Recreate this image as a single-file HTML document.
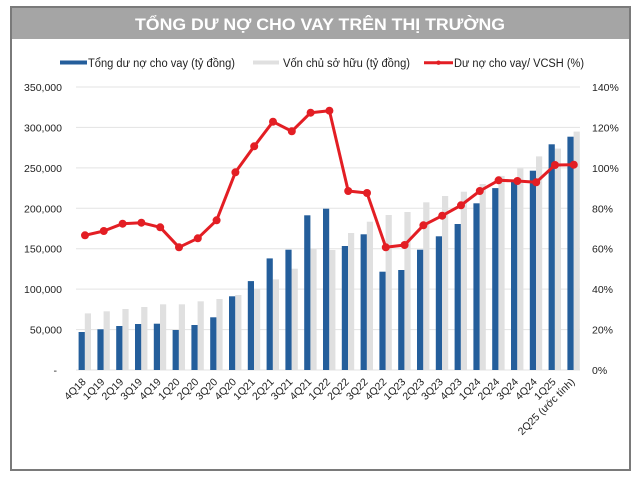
<!DOCTYPE html>
<html><head><meta charset="utf-8"><style>
html,body{margin:0;padding:0;background:#fff;width:640px;height:480px;overflow:hidden}
svg{display:block}
text{font-family:"Liberation Sans","Noto Sans CJK SC",sans-serif}
</style></head><body>
<svg width="640" height="480" viewBox="0 0 640 480" xmlns="http://www.w3.org/2000/svg">
<rect x="0" y="0" width="640" height="480" fill="#fff"/>
<rect x="11" y="7" width="619" height="32" fill="#a5a5a5"/>
<rect x="11" y="7" width="619" height="463" fill="none" stroke="#7a7a7a" stroke-width="2"/>
<text x="320" y="30" text-anchor="middle" font-size="17" font-weight="bold" fill="#fff" textLength="370" lengthAdjust="spacingAndGlyphs">TỔNG DƯ NỢ CHO VAY TRÊN THỊ TRƯỜNG</text>

<!-- legend -->
<rect x="60" y="60.5" width="27" height="4" fill="#245e9b"/>
<text x="88" y="67" font-size="11.5" fill="#222" textLength="147" lengthAdjust="spacingAndGlyphs">Tổng dư nợ cho vay (tỷ đồng)</text>
<rect x="253" y="60.5" width="26" height="4" fill="#e0e0e0"/>
<text x="283" y="67" font-size="11.5" fill="#222" textLength="127" lengthAdjust="spacingAndGlyphs">Vốn chủ sở hữu (tỷ đồng)</text>
<line x1="424" y1="62.7" x2="453" y2="62.7" stroke="#e31e24" stroke-width="3"/>
<circle cx="438.5" cy="62.7" r="2.2" fill="#e31e24"/>
<text x="454" y="67" font-size="11.5" fill="#222" textLength="130" lengthAdjust="spacingAndGlyphs">Dư nợ cho vay/ VCSH (%)</text>

<!-- gridlines -->
<g stroke="#e3e3e3" stroke-width="1">
<line x1="76" y1="87" x2="580" y2="87"/>
<line x1="76" y1="127.4" x2="580" y2="127.4"/>
<line x1="76" y1="167.9" x2="580" y2="167.9"/>
<line x1="76" y1="208.3" x2="580" y2="208.3"/>
<line x1="76" y1="248.7" x2="580" y2="248.7"/>
<line x1="76" y1="289.1" x2="580" y2="289.1"/>
<line x1="76" y1="329.6" x2="580" y2="329.6"/>
<line x1="76" y1="370" x2="580" y2="370"/>
</g>

<!-- left axis -->
<g font-size="10.5" fill="#222" text-anchor="end">
<text x="62" y="91">350,000</text>
<text x="62" y="131.4">300,000</text>
<text x="62" y="171.9">250,000</text>
<text x="62" y="212.3">200,000</text>
<text x="62" y="252.7">150,000</text>
<text x="62" y="293.1">100,000</text>
<text x="62" y="333.6">50,000</text>
<text x="57" y="374">-</text>
</g>
<!-- right axis -->
<g font-size="10.5" fill="#222">
<text x="592" y="91">140%</text>
<text x="592" y="131.4">120%</text>
<text x="592" y="171.9">100%</text>
<text x="592" y="212.3">80%</text>
<text x="592" y="252.7">60%</text>
<text x="592" y="293.1">40%</text>
<text x="592" y="333.6">20%</text>
<text x="592" y="374">0%</text>
</g>

<!-- gray bars -->
<g fill="#e0e0e0">
<rect x="84.8" y="313.4" width="6.2" height="56.6"/>
<rect x="103.6" y="311.3" width="6.2" height="58.7"/>
<rect x="122.4" y="309.0" width="6.2" height="61.0"/>
<rect x="141.2" y="307.0" width="6.2" height="63.0"/>
<rect x="160.0" y="304.3" width="6.2" height="65.7"/>
<rect x="178.8" y="304.3" width="6.2" height="65.7"/>
<rect x="197.6" y="301.3" width="6.2" height="68.7"/>
<rect x="216.4" y="299.0" width="6.2" height="71.0"/>
<rect x="235.2" y="295.0" width="6.2" height="75.0"/>
<rect x="254.0" y="289.3" width="6.2" height="80.7"/>
<rect x="272.8" y="279.4" width="6.2" height="90.6"/>
<rect x="291.6" y="268.7" width="6.2" height="101.3"/>
<rect x="310.4" y="249.0" width="6.2" height="121.0"/>
<rect x="329.2" y="250.0" width="6.2" height="120.0"/>
<rect x="348.0" y="233.0" width="6.2" height="137.0"/>
<rect x="366.8" y="221.7" width="6.2" height="148.3"/>
<rect x="385.6" y="215.0" width="6.2" height="155.0"/>
<rect x="404.4" y="212.0" width="6.2" height="158.0"/>
<rect x="423.2" y="202.3" width="6.2" height="167.7"/>
<rect x="442.0" y="196.0" width="6.2" height="174.0"/>
<rect x="460.8" y="191.7" width="6.2" height="178.3"/>
<rect x="479.6" y="184.0" width="6.2" height="186.0"/>
<rect x="498.4" y="175.9" width="6.2" height="194.1"/>
<rect x="517.2" y="168.3" width="6.2" height="201.7"/>
<rect x="536.0" y="156.4" width="6.2" height="213.6"/>
<rect x="554.8" y="148.6" width="6.2" height="221.4"/>
<rect x="573.6" y="131.6" width="6.2" height="238.4"/>
</g>
<!-- blue bars -->
<g fill="#245e9b">
<rect x="78.6" y="332.0" width="6.2" height="38.0"/>
<rect x="97.4" y="329.3" width="6.2" height="40.7"/>
<rect x="116.2" y="326.0" width="6.2" height="44.0"/>
<rect x="135.0" y="324.0" width="6.2" height="46.0"/>
<rect x="153.8" y="323.7" width="6.2" height="46.3"/>
<rect x="172.6" y="330.0" width="6.2" height="40.0"/>
<rect x="191.4" y="325.0" width="6.2" height="45.0"/>
<rect x="210.2" y="317.3" width="6.2" height="52.7"/>
<rect x="229.0" y="296.3" width="6.2" height="73.7"/>
<rect x="247.8" y="281.1" width="6.2" height="88.9"/>
<rect x="266.6" y="258.4" width="6.2" height="111.6"/>
<rect x="285.4" y="249.7" width="6.2" height="120.3"/>
<rect x="304.2" y="215.3" width="6.2" height="154.7"/>
<rect x="323.0" y="208.7" width="6.2" height="161.3"/>
<rect x="341.8" y="246.0" width="6.2" height="124.0"/>
<rect x="360.6" y="234.3" width="6.2" height="135.7"/>
<rect x="379.4" y="271.7" width="6.2" height="98.3"/>
<rect x="398.2" y="270.0" width="6.2" height="100.0"/>
<rect x="417.0" y="249.7" width="6.2" height="120.3"/>
<rect x="435.8" y="236.3" width="6.2" height="133.7"/>
<rect x="454.6" y="224.0" width="6.2" height="146.0"/>
<rect x="473.4" y="203.3" width="6.2" height="166.7"/>
<rect x="492.2" y="188.1" width="6.2" height="181.9"/>
<rect x="511.0" y="181.6" width="6.2" height="188.4"/>
<rect x="529.8" y="170.7" width="6.2" height="199.3"/>
<rect x="548.6" y="144.3" width="6.2" height="225.7"/>
<rect x="567.4" y="136.7" width="6.2" height="233.3"/>
</g>

<!-- red line -->
<polyline fill="none" stroke="#e31e24" stroke-width="3" stroke-linejoin="round" points="85,235.3 103.8,231 122.6,223.7 141.4,222.7 160.2,227.3 179,247.3 197.8,238.3 216.6,220.3 235.4,172.3 254.2,146.3 273,121.7 291.8,131.3 310.6,112.7 329.4,110.7 348.2,191 367,193 385.8,247.3 404.6,245 423.4,225.3 442.2,215.7 461,205.3 479.8,191 498.6,180.3 517.4,181 536.2,182.3 555,165 573.8,164.7"/>
<g fill="#e31e24">
<circle cx="85" cy="235.3" r="4"/><circle cx="103.8" cy="231" r="4"/><circle cx="122.6" cy="223.7" r="4"/><circle cx="141.4" cy="222.7" r="4"/><circle cx="160.2" cy="227.3" r="4"/><circle cx="179" cy="247.3" r="4"/><circle cx="197.8" cy="238.3" r="4"/><circle cx="216.6" cy="220.3" r="4"/><circle cx="235.4" cy="172.3" r="4"/><circle cx="254.2" cy="146.3" r="4"/><circle cx="273" cy="121.7" r="4"/><circle cx="291.8" cy="131.3" r="4"/><circle cx="310.6" cy="112.7" r="4"/><circle cx="329.4" cy="110.7" r="4"/><circle cx="348.2" cy="191" r="4"/><circle cx="367" cy="193" r="4"/><circle cx="385.8" cy="247.3" r="4"/><circle cx="404.6" cy="245" r="4"/><circle cx="423.4" cy="225.3" r="4"/><circle cx="442.2" cy="215.7" r="4"/><circle cx="461" cy="205.3" r="4"/><circle cx="479.8" cy="191" r="4"/><circle cx="498.6" cy="180.3" r="4"/><circle cx="517.4" cy="181" r="4"/><circle cx="536.2" cy="182.3" r="4"/><circle cx="555" cy="165" r="4"/><circle cx="573.8" cy="164.7" r="4"/>
</g>

<!-- x labels -->
<g font-size="10.5" fill="#222" text-anchor="end">
<text x="86.5" y="382.5" transform="rotate(-45 86.5 382.5)">4Q18</text>
<text x="105.3" y="382.5" transform="rotate(-45 105.3 382.5)">1Q19</text>
<text x="124.1" y="382.5" transform="rotate(-45 124.1 382.5)">2Q19</text>
<text x="142.9" y="382.5" transform="rotate(-45 142.9 382.5)">3Q19</text>
<text x="161.7" y="382.5" transform="rotate(-45 161.7 382.5)">4Q19</text>
<text x="180.5" y="382.5" transform="rotate(-45 180.5 382.5)">1Q20</text>
<text x="199.3" y="382.5" transform="rotate(-45 199.3 382.5)">2Q20</text>
<text x="218.1" y="382.5" transform="rotate(-45 218.1 382.5)">3Q20</text>
<text x="236.9" y="382.5" transform="rotate(-45 236.9 382.5)">4Q20</text>
<text x="255.7" y="382.5" transform="rotate(-45 255.7 382.5)">1Q21</text>
<text x="274.5" y="382.5" transform="rotate(-45 274.5 382.5)">2Q21</text>
<text x="293.3" y="382.5" transform="rotate(-45 293.3 382.5)">3Q21</text>
<text x="312.1" y="382.5" transform="rotate(-45 312.1 382.5)">4Q21</text>
<text x="330.9" y="382.5" transform="rotate(-45 330.9 382.5)">1Q22</text>
<text x="349.7" y="382.5" transform="rotate(-45 349.7 382.5)">2Q22</text>
<text x="368.5" y="382.5" transform="rotate(-45 368.5 382.5)">3Q22</text>
<text x="387.3" y="382.5" transform="rotate(-45 387.3 382.5)">4Q22</text>
<text x="406.1" y="382.5" transform="rotate(-45 406.1 382.5)">1Q23</text>
<text x="424.9" y="382.5" transform="rotate(-45 424.9 382.5)">2Q23</text>
<text x="443.7" y="382.5" transform="rotate(-45 443.7 382.5)">3Q23</text>
<text x="462.5" y="382.5" transform="rotate(-45 462.5 382.5)">4Q23</text>
<text x="481.3" y="382.5" transform="rotate(-45 481.3 382.5)">1Q24</text>
<text x="500.1" y="382.5" transform="rotate(-45 500.1 382.5)">2Q24</text>
<text x="518.9" y="382.5" transform="rotate(-45 518.9 382.5)">3Q24</text>
<text x="537.7" y="382.5" transform="rotate(-45 537.7 382.5)">4Q24</text>
<text x="556.5" y="382.5" transform="rotate(-45 556.5 382.5)">1Q25</text>
<text x="575.3" y="382.5" transform="rotate(-45 575.3 382.5)">2Q25 (ước tính)</text>
</g>
</svg>
</body></html>
